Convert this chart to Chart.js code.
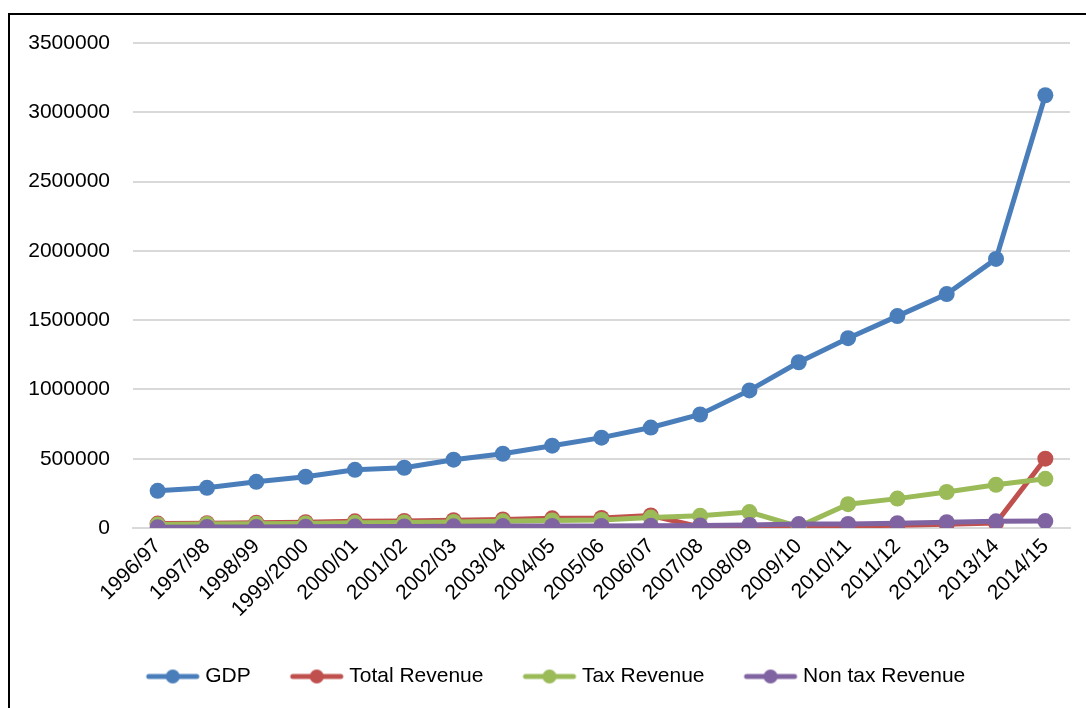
<!DOCTYPE html>
<html>
<head>
<meta charset="utf-8">
<script src="https://cdn.jsdelivr.net/npm/chart.js@4/dist/chart.umd.min.js"></script>
<style>
  html, body { margin: 0; padding: 0; background: #fff; overflow: hidden; }
  #frame { position: absolute; left: 8px; top: 13px; width: 1100px; height: 720px; border: 2px solid #000; box-sizing: border-box; }
  #wrap { position: absolute; left: 0; top: 0; width: 1086px; height: 708px; }
</style>
</head>
<body>
<div id="frame"></div>
<div id="wrap"><canvas id="chart" width="1086" height="708"></canvas></div>
<script>
var years = ["1996/97","1997/98","1998/99","1999/2000","2000/01","2001/02","2002/03","2003/04","2004/05","2005/06","2006/07","2007/08","2008/09","2009/10","2010/11","2011/12","2012/13","2013/14","2014/15"];
var gdp = [268000, 290000, 333000, 370000, 420000, 435000, 493000, 536000, 594000, 652000, 725000, 819000, 993000, 1196000, 1370000, 1529000, 1688000, 1942000, 3123000];
var totalRevenue = [32000, 35000, 38000, 42000, 48000, 51000, 56000, 62000, 70000, 73000, 90000, 8000, 6000, 12000, 14000, 20000, 27000, 36000, 500000];
var taxRevenue = [25000, 28000, 30000, 33000, 37000, 40000, 44000, 48000, 55000, 58000, 75000, 88000, 115000, 10000, 172000, 212000, 260000, 312000, 355000];
var nonTaxRevenue = [6000, 7000, 8000, 9000, 10000, 11000, 12000, 14000, 15000, 15000, 16000, 18000, 22000, 28000, 29000, 35000, 42000, 48000, 50000];

var names = ["GDP", "Total Revenue", "Tax Revenue", "Non tax Revenue"];
var colors = ["#4a7ebb", "#c0504d", "#9bbb59", "#8064a2"];
var series = [gdp, totalRevenue, taxRevenue, nonTaxRevenue];

// legend marker: line with a dot, shifted right so it sits close to the text
function legendIcon(color) {
  var c = document.createElement("canvas");
  c.width = 74; c.height = 18;
  var g = c.getContext("2d");
  g.strokeStyle = color;
  g.lineWidth = 5;
  g.lineCap = "round";
  g.beginPath(); g.moveTo(18, 9); g.lineTo(66, 9); g.stroke();
  g.fillStyle = color;
  g.beginPath(); g.arc(42, 9, 7, 0, Math.PI * 2); g.fill();
  return c;
}
var icons = colors.map(legendIcon);

var datasets = [];
for (var i = 0; i < series.length; i++) {
  datasets.push({
    label: names[i],
    data: series[i],
    borderColor: colors[i],
    backgroundColor: colors[i],
    borderWidth: 5,
    pointRadius: 8,
    pointHoverRadius: 8,
    pointBorderWidth: 0,
    tension: 0
  });
}
// GDP drawn on top, legend order unchanged
datasets[0].order = 0;
datasets[1].order = 3;
datasets[2].order = 2;
datasets[3].order = 1;

var font = "'Liberation Sans', Arial, sans-serif";

// nudge the legend a little to the right, like the original
var shiftLegend = {
  id: "shiftLegend",
  afterLayout: function (chart) {
    if (chart.legend) {
      chart.legend.left += 18;
      chart.legend.right += 18;
    }
  }
};

new Chart(document.getElementById("chart"), {
  type: "line",
  data: { labels: years, datasets: datasets },
  plugins: [shiftLegend],
  options: {
    responsive: false,
    animation: false,
    layout: { padding: { left: 0, right: 16, top: 43, bottom: 11 } },
    plugins: {
      tooltip: { enabled: false },
      legend: {
        position: "bottom",
        labels: {
          font: { family: font, size: 21 },
          color: "#000",
          usePointStyle: true,
          pointStyleWidth: 54,
          padding: 34,
          generateLabels: function (chart) {
            return names.map(function (n, k) {
              return { text: n, pointStyle: icons[k], fillStyle: colors[k], strokeStyle: colors[k], lineWidth: 0, datasetIndex: k, fontColor: "#000" };
            });
          }
        }
      }
    },
    scales: {
      x: {
        offset: true,
        grid: { display: false, drawTicks: false },
        border: { display: true, color: "#d9d9d9", width: 2 },
        ticks: {
          font: { family: font, size: 21 },
          color: "#000",
          maxRotation: 45,
          minRotation: 45,
          autoSkip: false,
          padding: 6
        },
        afterFit: function (scale) { scale.height = 104; }
      },
      y: {
        min: 0,
        max: 3500000,
        grid: { color: "#d9d9d9", lineWidth: 2, drawTicks: false },
        border: { display: false },
        ticks: {
          stepSize: 500000,
          font: { family: font, size: 21 },
          color: "#000",
          padding: 23,
          callback: function (v) { return String(v); }
        },
        afterFit: function (scale) { scale.width = 133; }
      }
    }
  }
});
</script>
</body>
</html>
